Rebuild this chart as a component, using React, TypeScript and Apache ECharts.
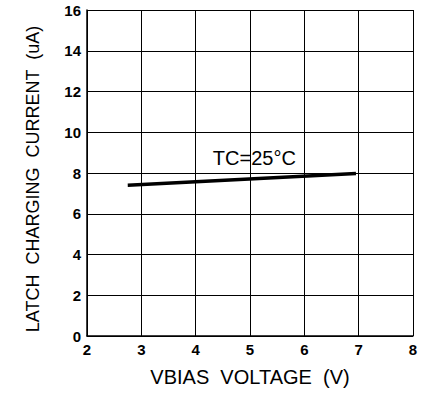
import React, { useEffect, useRef } from "react";
import * as echarts from "echarts";

const voltage = [2.75, 6.95];
const current = [7.4, 7.98];
const xTicks = [2, 3, 4, 5, 6, 7, 8];
const yTicks = [0, 2, 4, 6, 8, 10, 12, 14, 16];
const annotation = "TC=25°C";
const annotationAt = [5.08, 8.76];
const xName = "VBIAS  VOLTAGE  (V)";
const yName = "LATCH  CHARGING  CURRENT  (uA)";

export default function App() {
  const ref = useRef<HTMLDivElement>(null);
  useEffect(() => {
    const chart = echarts.init(ref.current!, null, { renderer: "svg" });
    const font = "'Liberation Sans', Arial, sans-serif";
    chart.setOption({
      animation: false,
      backgroundColor: "#fff",
      grid: { left: 87, right: 14, top: 10, bottom: 59 },
      graphic: [
        {
          type: "text",
          x: 33,
          y: 179,
          rotation: Math.PI / 2,
          style: {
            text: yName,
            fill: "#000",
            fontSize: 18,
            fontFamily: font,
            align: "center",
            verticalAlign: "middle",
          },
        },
      ],
      xAxis: {
        type: "value",
        min: xTicks[0],
        max: xTicks[xTicks.length - 1],
        interval: 1,
        name: xName,
        nameLocation: "middle",
        nameGap: 31,
        nameTextStyle: { color: "#000", fontSize: 20, fontFamily: font },
        axisLine: { show: true, lineStyle: { color: "#000", width: 1.5 } },
        axisTick: { show: false },
        axisLabel: { color: "#000", fontSize: 15, fontWeight: "bold", fontFamily: font, margin: 6 },
        splitLine: { show: true, lineStyle: { color: "#000", width: 1 } },
      },
      yAxis: {
        type: "value",
        min: yTicks[0],
        max: yTicks[yTicks.length - 1],
        interval: 2,
        axisLine: { show: true, lineStyle: { color: "#000", width: 1.5 } },
        axisTick: { show: false },
        axisLabel: { color: "#000", fontSize: 15, fontWeight: "bold", fontFamily: font, margin: 6 },
        splitLine: { show: true, lineStyle: { color: "#000", width: 1 } },
      },
      series: [
        {
          type: "line",
          data: voltage.map((v, i) => [v, current[i]]),
          symbol: "none",
          lineStyle: { color: "#000", width: 3.5 },
          markPoint: {
            symbol: "circle",
            symbolSize: 0,
            data: [
              {
                coord: annotationAt,
                label: {
                  show: true,
                  position: "inside",
                  formatter: annotation,
                  color: "#000",
                  fontSize: 20,
                  fontFamily: font,
                },
              },
            ],
          },
        },
      ],
    });
    return () => chart.dispose();
  }, []);
  return (
    <div
      ref={ref}
      style={{ position: "absolute", left: 0, top: 0, width: 427, height: 395 }}
    />
  );
}
